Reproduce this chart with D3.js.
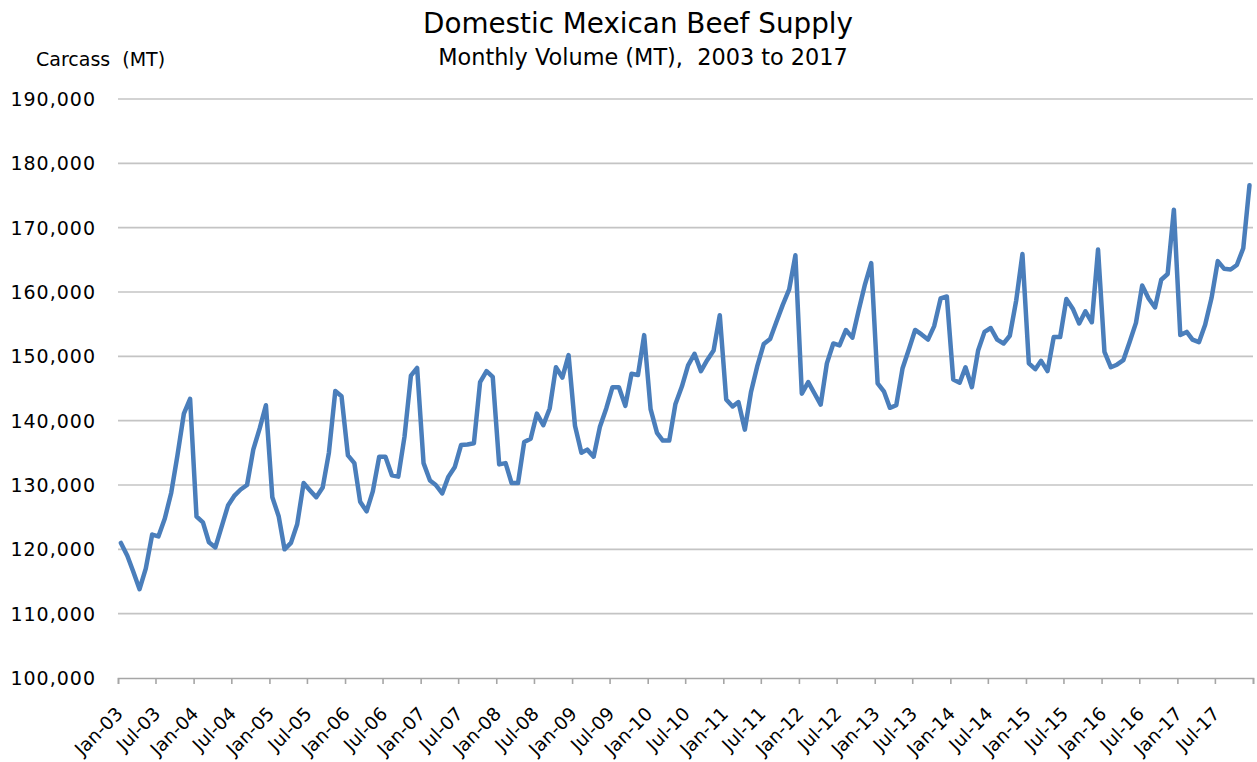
<!DOCTYPE html>
<html>
<head>
<meta charset="utf-8">
<script src="https://cdn.jsdelivr.net/npm/d3@7"></script>
<style>
  html, body { margin: 0; padding: 0; background: #fff; }
  svg { display: block; }
  text { font-family: "DejaVu Sans", sans-serif; fill: #000; white-space: pre; }
</style>
</head>
<body>
<svg id="chart" width="1257" height="762"></svg>
<script>
// Monthly carcass volume (MT), Jan 2003 – Dec 2017, one value per month
const startYear = 2003;
const volume2003_2005 = [
  121000, 119000, 116600, 113800, 117000, 122300, 122000, 124800, 128800, 134600, 141100, 143400,
  125100, 124200, 121100, 120300, 123500, 126800, 128300, 129300, 130000, 135500, 138800, 142400,
  128100, 125100, 120000, 121000, 123900, 130300, 129200, 128100, 129600, 135000, 144600, 143800
];
const volume2006_2008 = [
  134600, 133400, 127400, 125900, 129000, 134400, 134400, 131500, 131300, 137500, 147000, 148200,
  133400, 130700, 130000, 128700, 131300, 132800, 136200, 136300, 136500, 146000, 147700, 146800,
  133200, 133400, 130300, 130300, 136700, 137200, 141100, 139300, 141900, 148300, 146700, 150200
];
const volume2009_2011 = [
  139200, 135000, 135500, 134400, 139000, 141900, 145200, 145200, 142300, 147300, 147100, 153300,
  141800, 138100, 136900, 136900, 142600, 145300, 148600, 150400, 147700, 149400, 150900, 156400,
  143300, 142200, 142900, 138600, 144500, 148600, 151900, 152700, 155400, 158000, 160400, 165700
];
const volume2012_2014 = [
  144200, 146000, 144300, 142500, 148900, 152000, 151700, 154100, 152900, 157100, 161200, 164500,
  145800, 144500, 142000, 142400, 148100, 151100, 154100, 153400, 152600, 154700, 159000, 159300,
  146400, 145900, 148300, 145200, 150900, 153800, 154400, 152600, 152000, 153200, 158700, 165900
];
const volume2015_2017 = [
  148900, 148000, 149300, 147700, 153000, 153000, 158900, 157400, 155100, 157000, 155300, 166600,
  150700, 148300, 148700, 149400, 152200, 155200, 161000, 159000, 157600, 161900, 162800, 172800,
  153300, 153800, 152600, 152200, 154900, 159100, 164800, 163600, 163500, 164200, 166800, 176600
];
const volumes = [].concat(volume2003_2005, volume2006_2008, volume2009_2011, volume2012_2014, volume2015_2017);

const yTicks = [100000, 110000, 120000, 130000, 140000, 150000, 160000, 170000, 180000, 190000];
const titleText = "Domestic Mexican Beef Supply";
const subtitleText = "Monthly Volume (MT),  2003 to 2017";
const yAxisTitle = "Carcass  (MT)";

// Each monthly value is plotted at mid-month on a date axis
const data = volumes.map((v, i) => ({ date: new Date(startYear, i, 15), value: v }));

const svg = d3.select("#chart");
const plot = { left: 118, right: 1253, top: 99, bottom: 678 };

const x = d3.scaleTime()
  .domain([new Date(2003, 0, 1), new Date(2018, 0, 1)])
  .range([plot.left, plot.right]);
const y = d3.scaleLinear()
  .domain([100000, 190000])
  .range([plot.bottom, plot.top]);

// Horizontal gridlines
svg.append("g")
  .selectAll("line")
  .data(yTicks.filter(t => t > 100000))
  .join("line")
  .attr("x1", plot.left).attr("x2", plot.right)
  .attr("y1", d => y(d)).attr("y2", d => y(d))
  .attr("stroke", "#c4c4c4")
  .attr("stroke-width", 1.6);

// Y-axis labels
const fmt = d3.format(",");
svg.append("g")
  .selectAll("text")
  .data(yTicks)
  .join("text")
  .attr("x", 96)
  .attr("y", d => y(d))
  .attr("dy", "0.36em")
  .attr("text-anchor", "end")
  .attr("font-size", 19)
  .attr("letter-spacing", 1)
  .text(d => fmt(d));

// X axis: baseline with a tick every six months
const xAxis = d3.axisBottom(x)
  .ticks(d3.timeMonth.every(6))
  .tickSize(6)
  .tickFormat("");
const gx = svg.append("g")
  .attr("transform", `translate(0,${plot.bottom})`)
  .call(xAxis);
gx.select(".domain").attr("stroke", "#a6a6a6").attr("stroke-width", 1.6);
gx.selectAll(".tick line").attr("stroke", "#a6a6a6").attr("stroke-width", 1.6);

// Rotated month labels
const labelTicks = x.ticks(d3.timeMonth.every(6)).filter(d => d < new Date(2018, 0, 1));
const monthFmt = d3.timeFormat("%b-%y");
svg.append("g")
  .selectAll("text")
  .data(labelTicks)
  .join("text")
  .attr("transform", d => `translate(${x(d) + 6},${plot.bottom + 37}) rotate(-45)`)
  .attr("text-anchor", "end")
  .attr("font-size", 18.5)
  .text(d => monthFmt(d));

// Volume line
const line = d3.line()
  .x(d => x(d.date))
  .y(d => y(d.value));
svg.append("path")
  .datum(data)
  .attr("d", line)
  .attr("fill", "none")
  .attr("stroke", "#4a7ebb")
  .attr("stroke-width", 4.5)
  .attr("stroke-linejoin", "round")
  .attr("stroke-linecap", "round");

// Titles
svg.append("text")
  .attr("x", 638).attr("y", 33)
  .attr("text-anchor", "middle")
  .attr("font-size", 27.8)
  .text(titleText);
svg.append("text")
  .attr("x", 643).attr("y", 65)
  .attr("text-anchor", "middle")
  .attr("font-size", 22.4)
  .text(subtitleText);
svg.append("text")
  .attr("x", 36).attr("y", 66)
  .attr("font-size", 19)
  .text(yAxisTitle);
</script>
</body>
</html>
